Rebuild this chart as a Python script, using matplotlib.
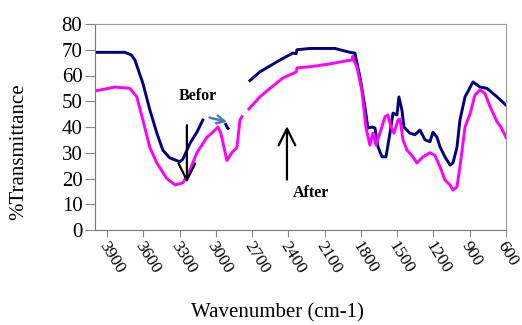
import numpy as np
import matplotlib
matplotlib.use('Agg')
import matplotlib.pyplot as plt

plt.rcParams['font.family'] = ['Liberation Serif', 'DejaVu Serif']

# ── Before treatment (navy) ──
wn_before = [4000, 3753, 3700, 3670, 3604, 3546, 3488, 3439, 3381, 3298, 3273, 3215, 3157, 3108,
             np.nan, 2918, 2908, 2900, np.nan,
             2719, 2636, 2553, 2470, 2363, 2335, 2330, 2222, 2015, 1891, 1850, 1808, 1767,
             1742, 1709, 1684, 1659, 1626, 1593, 1560, 1535, 1502, 1486, 1461, 1444, 1395,
             1353, 1312, 1270, 1229, 1204, 1171, 1146, 1105, 1063, 1039, 1006, 981, 939,
             873, 815, 757, 674, 600]
t_before = [69, 69, 68, 66, 57, 46.6, 37.6, 31, 28, 26.5, 27.5, 33.6, 38, 42.7,
            np.nan, 41, 40, 39.5, np.nan,
            58, 61.4, 63.7, 66, 68.7, 68.5, 70, 70.5, 70.5, 69, 68.7, 59.4, 47.8,
            39.6, 40, 39.6, 32.3, 28.4, 28.4, 37.6, 45.4, 44.7, 51.7, 46.6, 40, 37.6,
            37, 38.8, 35, 34.3, 38, 36, 32.3, 28.4, 25.2, 26, 32, 42.7, 51.7,
            57.5, 55.5, 55, 51.7, 48.5]

# ── After treatment (magenta) ──
wn_after = [4000, 3836, 3712, 3654, 3604, 3546, 3488, 3406, 3339, 3273, 3215, 3157, 3074,
            3025, 2983, 2959, 2909, 2868, 2826, 2801, 2785, np.nan,
            2727, 2636, 2553, 2446, 2335, 2328, 2222, 2057, 1932, 1875, 1868, 1860, 1833,
            1792, 1759, 1726, 1701, 1676, 1643, 1601, 1577, 1552, 1527, 1494, 1477, 1452,
            1419, 1370, 1337, 1287, 1229, 1188, 1146, 1105, 1063, 1039, 1006, 981, 939,
            898, 857, 815, 774, 733, 674, 642, 600]
t_after = [54, 55.5, 55, 51.7, 42.7, 32, 26, 20, 17.5, 18.3, 23.3, 30, 36,
           38, 40, 37.6, 27, 30, 32, 42.7, 44, np.nan,
           47, 51.7, 55, 59, 61.4, 63, 63.4, 64.5, 65.6, 66, 67.5, 66, 63.4,
           54, 40, 33, 37.6, 33, 37.6, 44, 44.7, 40, 37.6, 42.7, 43, 35,
           31, 28.4, 26, 28.4, 30, 29, 24.5, 19.4, 17.5, 15.5, 16.7, 24.5, 40,
           45, 52.4, 54.4, 53, 48, 42, 40, 36]

x_ticks = [3900, 3600, 3300, 3000, 2700, 2400, 2100, 1800, 1500, 1200, 900, 600]
y_ticks = [0, 10, 20, 30, 40, 50, 60, 70, 80]

fig = plt.figure(figsize=(5.22, 3.25), dpi=100)
ax = fig.add_axes([95 / 522, 1 - 230 / 325, 411 / 522, 206 / 325])

ax.plot(wn_before, t_before, color='#000080', lw=2.1)
ax.plot(wn_after, t_after, color='#ff00ff', lw=2.1)

ax.set_xlim(4000, 600)
ax.set_ylim(0, 80)
ax.set_xticks(x_ticks)
ax.set_xticklabels([])
# rotated tick labels, nudged a little left of each tick like the original
for v in x_ticks:
    ax.annotate(str(v), xy=(v, 0), xycoords=('data', 'axes fraction'),
                xytext=(-3.5, -9.5), textcoords='offset points', rotation=-58,
                rotation_mode='anchor', ha='left', va='center', fontsize=12.5,
                annotation_clip=False)
ax.set_yticks(y_ticks)
ax.tick_params(axis='y', labelsize=15, length=7, color='#888888', pad=2)
ax.tick_params(axis='x', length=5, color='#888888')
for s in ax.spines.values():
    s.set_color('#999999')
ax.spines['left'].set_color('#777777')
ax.spines['bottom'].set_color('#777777')

# annotations
ax.text(3150, 52, 'Befor', fontsize=11.5, fontweight='bold', ha='center', va='center')
ax.annotate('', xy=(2884, 41.7), xytext=(3075, 43.9),
            arrowprops=dict(arrowstyle='->', color='#4a7ebb', lw=1.8,
                            mutation_scale=14))
ax.annotate('', xy=(3240, 17.3), xytext=(3240, 41.8),
            arrowprops=dict(arrowstyle='->', color='black', lw=1.6,
                            mutation_scale=30))
ax.annotate('', xy=(2412, 41.4), xytext=(2412, 18.5),
            arrowprops=dict(arrowstyle='->', color='black', lw=1.6,
                            mutation_scale=30))
ax.text(2363, 14.4, 'After', fontsize=11.5, fontweight='bold', ha='left', va='center')

fig.text(277 / 522, 1 - 313 / 325, 'Wavenumber (cm-1)', fontsize=15,
         ha='center', va='center')
fig.text(19 / 522, 1 - 152 / 325, '%Transmittance', fontsize=15, rotation=90,
         ha='center', va='center')

fig.savefig('out.png', dpi=100)
